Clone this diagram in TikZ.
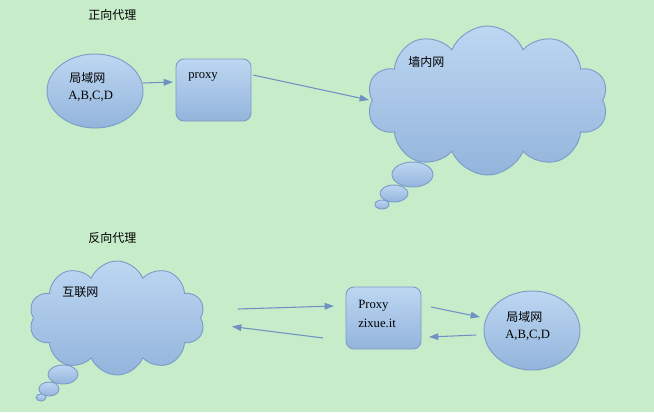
\documentclass[tikz,border=0pt]{standalone}
\usepackage{fontspec}
\setmainfont{Liberation Serif}
\newfontfamily\cjk{Noto Sans CJK SC}
\usetikzlibrary{shapes.symbols,shapes.geometric,arrows.meta}
\definecolor{bg}{HTML}{C7ECCA}
\definecolor{topc}{HTML}{BDD7F2}
\definecolor{botc}{HTML}{93B4DC}
\definecolor{edge}{HTML}{7C9DC8}
\definecolor{arr}{HTML}{6F92C3}
\tikzset{
  blob/.style={draw=edge, line width=0.7pt, top color=topc, bottom color=botc},
  cloudbox/.style={blob, cloud, cloud puffs=10, cloud puff arc=135, cloud ignores aspect, inner sep=0pt},
  rbox/.style={blob, rectangle, rounded corners=6pt, inner sep=0pt},
  ebox/.style={blob, ellipse, inner sep=0pt},
  lbl/.style={anchor=west, inner sep=0pt, font=\fontsize{9.5}{11}\selectfont},
  clbl/.style={anchor=west, inner sep=0pt, font=\cjk\fontsize{9}{11}\selectfont},
  conn/.style={draw=arr, line width=0.8pt, -{Triangle[length=7pt,width=5pt]}},
}
\begin{document}
\begin{tikzpicture}[x=0.75pt,y=-0.75pt]
\fill[bg] (0,0) rectangle (654,412);
\useasboundingbox (0,0) rectangle (654,412);

% titles
\node[clbl] (t1) at (88,15) {正向代理};
\node[clbl] (t2) at (88,238) {反向代理};

% top row
\node[ebox, minimum width=96*0.75pt, minimum height=74*0.75pt] (lan1) at (95,91) {};
\node[clbl] (lan1a) at (69,78) {局域网};
\node[lbl] (lan1b) at (68,96) {A,B,C,D};

\node[rbox, minimum width=75*0.75pt, minimum height=62*0.75pt] (px1) at (213.5,90) {};
\node[lbl] (px1t) at (188,77) {proxy};

\node[cloudbox, minimum width=241*0.75pt, minimum height=149*0.75pt] (cl1) at (487.5,100.5) {};
\node[ebox, minimum width=41*0.75pt, minimum height=25*0.75pt] (b1a) at (412.5,174.5) {};
\node[ebox, minimum width=28*0.75pt, minimum height=17*0.75pt] (b1b) at (394,193.5) {};
\node[ebox, minimum width=14*0.75pt, minimum height=9*0.75pt] (b1c) at (382,204.5) {};
\node[clbl] (cl1t) at (408,62) {墙内网};

\coordinate (a1s) at (143,83);
\coordinate (a1e) at (173,82);
\draw[conn] (a1s) -- (a1e);
\coordinate (a2s) at (253,75);
\coordinate (a2e) at (369,100);
\draw[conn] (a2s) -- (a2e);

% bottom row
\node[cloudbox, minimum width=176*0.75pt, minimum height=114*0.75pt] (cl2) at (117,318) {};
\node[ebox, minimum width=30*0.75pt, minimum height=19*0.75pt] (b2a) at (63,374.5) {};
\node[ebox, minimum width=20*0.75pt, minimum height=14*0.75pt] (b2b) at (49,389) {};
\node[ebox, minimum width=10*0.75pt, minimum height=7*0.75pt] (b2c) at (41,397.5) {};
\node[clbl] (cl2t) at (62,292) {互联网};

\node[rbox, minimum width=75*0.75pt, minimum height=62*0.75pt] (px2) at (383.5,318) {};
\node[lbl] (px2a) at (358,306) {Proxy};
\node[lbl] (px2b) at (358,323) {zixue.it};

\node[ebox, minimum width=96*0.75pt, minimum height=79*0.75pt] (lan2) at (532,330.5) {};
\node[clbl] (lan2a) at (506,317) {局域网};
\node[lbl] (lan2b) at (505,335) {A,B,C,D};

\coordinate (b1s) at (238,309);
\coordinate (b1e) at (334,306);
\draw[conn] (b1s) -- (b1e);
\coordinate (b2s) at (323,338);
\coordinate (b2e) at (232,326.5);
\draw[conn] (b2s) -- (b2e);
\coordinate (b3s) at (431,307);
\coordinate (b3e) at (480,317);
\draw[conn] (b3s) -- (b3e);
\coordinate (b4s) at (476,335);
\coordinate (b4e) at (429,337);
\draw[conn] (b4s) -- (b4e);
\end{tikzpicture}
\end{document}
